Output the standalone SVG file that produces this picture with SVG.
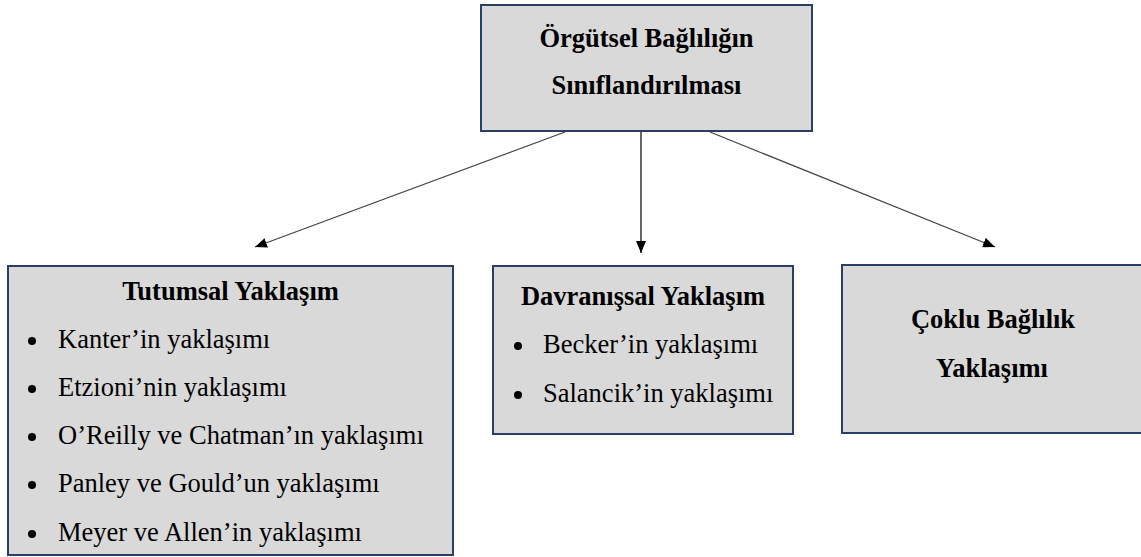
<svg xmlns="http://www.w3.org/2000/svg" width="1141" height="557" viewBox="0 0 1141 557">
<defs>
<style>
.lbl{font-family:"Liberation Serif",serif;font-size:26.5px;fill:#000}
.bold{font-weight:bold}
.mid{text-anchor:middle}
.box{fill:#d9d9d9;stroke:#2a3f66;stroke-width:2}
.con{stroke:#444;stroke-width:1.2;fill:none}
.dot{fill:#000}
</style>
<marker id="arr" viewBox="0 0 12 10" refX="12" refY="5" markerWidth="12" markerHeight="10" markerUnits="userSpaceOnUse" orient="auto">
<path d="M0,0 L12,5 L0,10 Z" fill="#000"/>
</marker>
</defs>
<rect width="1141" height="557" fill="#fff"/>
<g id="connectors">
<line class="con" x1="565" y1="132" x2="255" y2="247" marker-end="url(#arr)"/>
<line class="con" x1="641" y1="132" x2="641" y2="253" stroke="#000" style="stroke:#000" marker-end="url(#arr)"/>
<line class="con" x1="710" y1="132" x2="995" y2="247" marker-end="url(#arr)"/>
</g>
<g id="root">
<rect class="box" x="481" y="5" width="331" height="126"/>
<text class="lbl bold mid" x="646.5" y="47">Örgütsel Bağlılığın</text>
<text class="lbl bold mid" x="646.5" y="94">Sınıflandırılması</text>
</g>
<g id="tutumsal">
<rect class="box" x="8" y="266" width="445" height="289"/>
<text class="lbl bold mid" x="230.5" y="300">Tutumsal Yaklaşım</text>
<circle class="dot" cx="32" cy="341" r="4"/>
<text class="lbl" x="58" y="348">Kanter’in yaklaşımı</text>
<circle class="dot" cx="32" cy="389" r="4"/>
<text class="lbl" x="58" y="396">Etzioni’nin yaklaşımı</text>
<circle class="dot" cx="32" cy="437" r="4"/>
<text class="lbl" x="58" y="444">O’Reilly ve Chatman’ın yaklaşımı</text>
<circle class="dot" cx="32" cy="485" r="4"/>
<text class="lbl" x="58" y="492">Panley ve Gould’un yaklaşımı</text>
<circle class="dot" cx="32" cy="534" r="4"/>
<text class="lbl" x="58" y="541">Meyer ve Allen’in yaklaşımı</text>
</g>
<g id="davranissal">
<rect class="box" x="493" y="266" width="300" height="168"/>
<text class="lbl bold mid" x="643" y="305">Davranışsal Yaklaşım</text>
<circle class="dot" cx="518" cy="346" r="4"/>
<text class="lbl" x="543" y="353">Becker’in yaklaşımı</text>
<circle class="dot" cx="518" cy="395" r="4"/>
<text class="lbl" x="543" y="402">Salancik’in yaklaşımı</text>
</g>
<g id="coklu">
<rect class="box" x="842" y="265" width="302" height="168"/>
<text class="lbl bold mid" x="993" y="328">Çoklu Bağlılık</text>
<text class="lbl bold mid" x="992" y="377">Yaklaşımı</text>
</g>
</svg>
